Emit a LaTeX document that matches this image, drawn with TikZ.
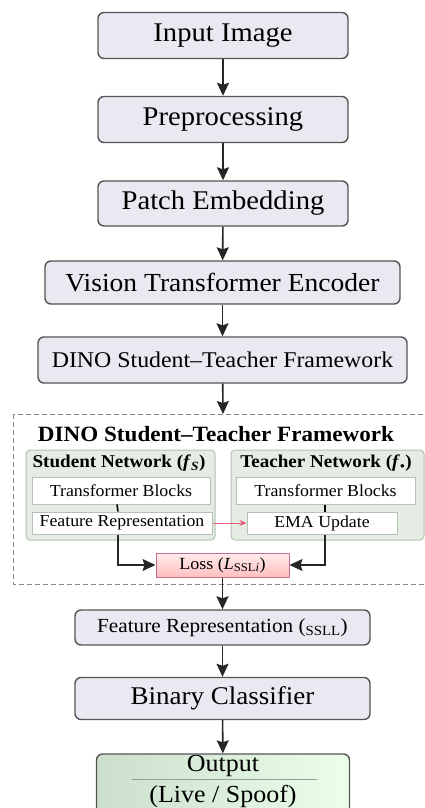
\documentclass[tikz,border=0pt]{standalone}
\usepackage{fontspec}
\setmainfont[FakeStretch=1.06]{Liberation Serif}
\usetikzlibrary{arrows.meta}

\definecolor{boxfill}{HTML}{E9E9F2}
\definecolor{boxline}{HTML}{555555}
\definecolor{panelfill}{HTML}{E4ECE4}
\definecolor{panelline}{HTML}{B3C2B3}
\definecolor{lossline}{HTML}{C46E8E}
\definecolor{emared}{HTML}{E0607A}

\begin{document}
\begin{tikzpicture}[x=1pt, y=-1pt,
  box/.style={draw=boxline, line width=1.4pt, rounded corners=6pt, fill=boxfill,
    minimum width=250pt, minimum height=46pt, inner sep=0pt,
    font=\fontsize{27}{30}\selectfont},
  inbox/.style={draw=panelline, line width=1pt, fill=white, inner sep=0pt,
    minimum height=24pt, font=\fontsize{16.8}{20}\selectfont},
  panel/.style={draw=panelline, line width=1pt, rounded corners=4pt, fill=panelfill},
  arr/.style={-{Stealth[length=13pt, width=12pt, inset=2pt]}, line width=1.6pt, black!85}]
  \useasboundingbox (0,0) rectangle (425,808);

  % main pipeline
  \node[box] (inp) at (223,35.5) {Input Image};
  \node[box] (pre) at (223,119.5) {Preprocessing};
  \node[box, minimum height=45pt] (patch) at (223,203.5) {Patch Embedding};
  \node[box, minimum width=355pt, minimum height=43pt, font=\fontsize{26}{30}\selectfont] (vit) at (222.5,282.5) {Vision Transformer Encoder};
  \node[box, minimum width=369pt, font=\fontsize{22.5}{27}\selectfont] (dino) at (222.5,360) {DINO Student--Teacher Framework};

  % student / teacher detail
  \draw[boxline!70, line width=1pt, dashed, dash pattern=on 5pt off 3pt] (13,414) rectangle (440,584);
  \node[font=\bfseries\fontsize{21.8}{26}\selectfont] (frame) at (216,434) {DINO Student--Teacher Framework};

  \draw[panel] (26,450) rectangle (215,540);
  \draw[panel] (231,450) rectangle (424,540);
  \node[font=\bfseries\fontsize{18}{22}\selectfont] (stitle) at (119,463) {Student Network (\textit{f}\textsubscript{\textit{S}})};
  \node[font=\bfseries\fontsize{18}{22}\selectfont] (ttitle) at (326,463) {Teacher Network (\textit{f}\textsubscript{\textbullet})};

  \node[inbox, minimum width=178pt, minimum height=27pt] (stb) at (121,490.5) {Transformer Blocks};
  \node[inbox, minimum width=180pt, minimum height=22pt] (sfr) at (122,523) {Feature Representation};
  \node[inbox, minimum width=179pt, minimum height=27pt] (ttb) at (325.5,490.5) {Transformer Blocks};
  \node[inbox, minimum width=150pt, minimum height=22pt] (ema) at (322,523) {EMA Update};

  \node[draw=lossline, line width=1pt, top color=pink!30, bottom color=pink!85!red!70,
    minimum width=133pt, minimum height=24pt, inner sep=0pt,
    font=\fontsize{17}{20}\selectfont] (loss) at (222.5,565)
    {Loss (\textit{L}\textsubscript{SSL\textit{i}})};

  \draw[line width=1.6pt] ([xshift=-4pt]stb.south) -- ([xshift=-4pt]sfr.north);
  \draw[line width=1.6pt] ([xshift=-0.5pt]ttb.south) -- ([xshift=-0.5pt]ttb.south |- ema.north);
  \draw[-{Stealth[length=7pt, width=6pt]}, emared, line width=0.8pt] (sfr.east) -- (ema.west);
  \draw[arr, line width=1.2pt] ([xshift=-4pt]sfr.south) |- (loss.west);
  \draw[arr, line width=1.2pt] ([xshift=3pt]ema.south) |- (loss.east);

  % head
  \node[box, minimum width=295pt, minimum height=35pt, font=\fontsize{20}{24}\selectfont] (feat) at (222.5,627.5)
    {Feature Representation (\textsubscript{SSLL})};
  \node[box, minimum width=295pt, minimum height=42pt, font=\fontsize{25.5}{30}\selectfont] (bin) at (222.5,698.5) {Binary Classifier};
  \node[box, minimum width=253pt, minimum height=62pt, fill=none, left color=green!35!black!20!white,
    right color=green!8!white] (out) at (223,785) {};
  \node[font=\fontsize{24.5}{30}\selectfont] (outtop) at (223,766) {Output};
  \node[font=\fontsize{24.5}{30}\selectfont] (outbot) at (223,796) {(Live / Spoof)};
  \draw[boxline!60, line width=0.8pt] ([xshift=-91pt]out.center |- 0,779) -- ([xshift=94pt]out.center |- 0,779);

  \draw[arr] (inp) -- (pre);
  \draw[arr] (pre) -- (patch);
  \draw[arr] (patch) -- (vit);
  \draw[arr] (vit) -- (dino);
  \draw[arr] (dino) -- (223,414);
  \draw[arr] (loss) -- (feat);
  \draw[arr] (feat) -- (bin);
  \draw[arr] (bin) -- (out);
\end{tikzpicture}
\end{document}
